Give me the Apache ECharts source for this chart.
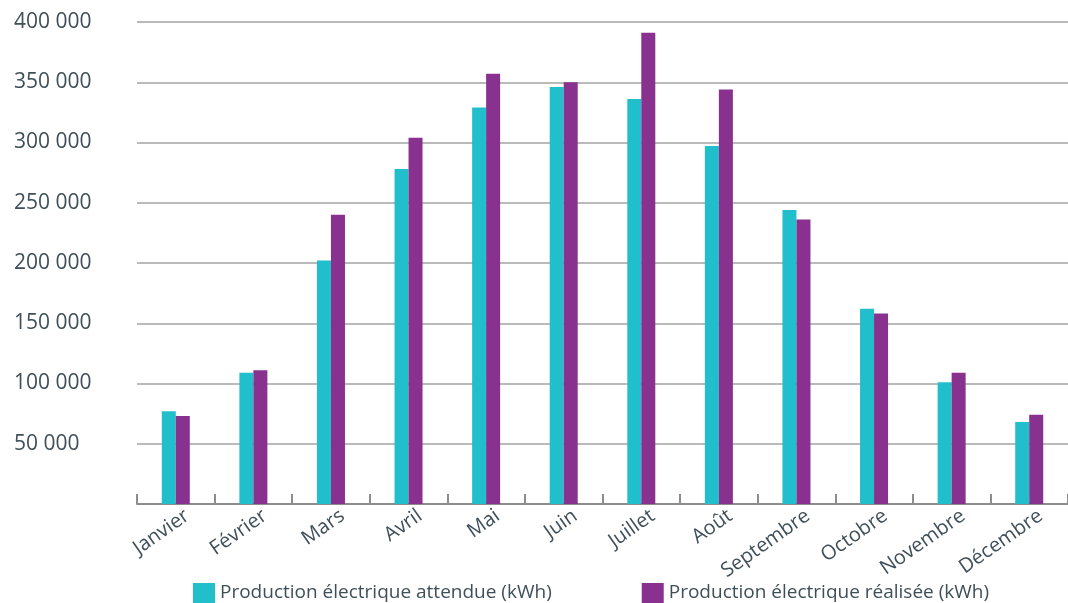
<!DOCTYPE html>
<html>
<head>
<meta charset="utf-8">
<script src="https://cdn.jsdelivr.net/npm/echarts@6/dist/echarts.min.js"></script>
<style>
	html, body { margin: 0; padding: 0; background: #fff; }
	#chart { width: 1068px; height: 603px; }
</style>
</head>
<body>
<div id="chart"></div>
<script>
//数据
var months = ['Janvier', 'Février', 'Mars', 'Avril', 'Mai', 'Juin', 'Juillet', 'Août', 'Septembre', 'Octobre', 'Novembre', 'Décembre'];
var attendue = [77000, 109000, 202000, 278000, 329000, 346000, 336000, 297000, 244000, 162000, 101000, 68000];
var realisee = [73000, 111000, 240000, 304000, 357000, 350000, 391000, 344000, 236000, 158000, 109000, 74000];
var seriesNames = ['Production électrique attendue (kWh)', 'Production électrique réalisée (kWh)'];

var textColor = '#3f4f58';
var fontName = 'Open Sans';

var chart = echarts.init(document.getElementById('chart'));
var option = {
	animation: false,
	color: ['#21bfcc', '#88318f'],
	grid: {
		left: 137,
		right: 0,
		top: 22,
		bottom: 99
	},
	legend: {
		left: 188,
		top: 578,
		itemWidth: 22,
		itemHeight: 20,
		itemGap: 90,
		icon: 'rect',
		selectedMode: false,
		textStyle: {
			color: textColor,
			fontSize: 19,
			fontFamily: fontName
		},
		data: seriesNames
	},
	xAxis: {
		type: 'category',
		data: months,
		axisLine: {
			lineStyle: { color: '#8c8c8c', width: 2 }
		},
		axisTick: {
			show: true,
			interval: 0,
			inside: true,
			length: 10,
			lineStyle: { color: '#8c8c8c', width: 2 }
		},
		axisLabel: {
			interval: 0,
			rotate: 35,
			margin: 18,
			padding: [0, -14, 0, 0],
			color: textColor,
			fontSize: 20,
			fontFamily: fontName
		}
	},
	yAxis: {
		type: 'value',
		min: 0,
		max: 400000,
		interval: 50000,
		axisLine: { show: false },
		axisTick: { show: false },
		splitLine: {
			lineStyle: { color: '#a3a3a3', width: 1.5 }
		},
		axisLabel: {
			align: 'left',
			margin: 123,
			color: textColor,
			fontSize: 21,
			fontFamily: fontName,
			formatter: function (v) {
				if (v === 0) return '';
				return String(v).replace(/\B(?=(\d{3})+(?!\d))/g, ' ');
			}
		}
	},
	series: [{
		name: seriesNames[0],
		type: 'bar',
		barWidth: 14,
		barGap: '0%',
		data: attendue
	}, {
		name: seriesNames[1],
		type: 'bar',
		barWidth: 14,
		barGap: '0%',
		data: realisee
	}]
};
chart.setOption(option);
</script>
</body>
</html>
